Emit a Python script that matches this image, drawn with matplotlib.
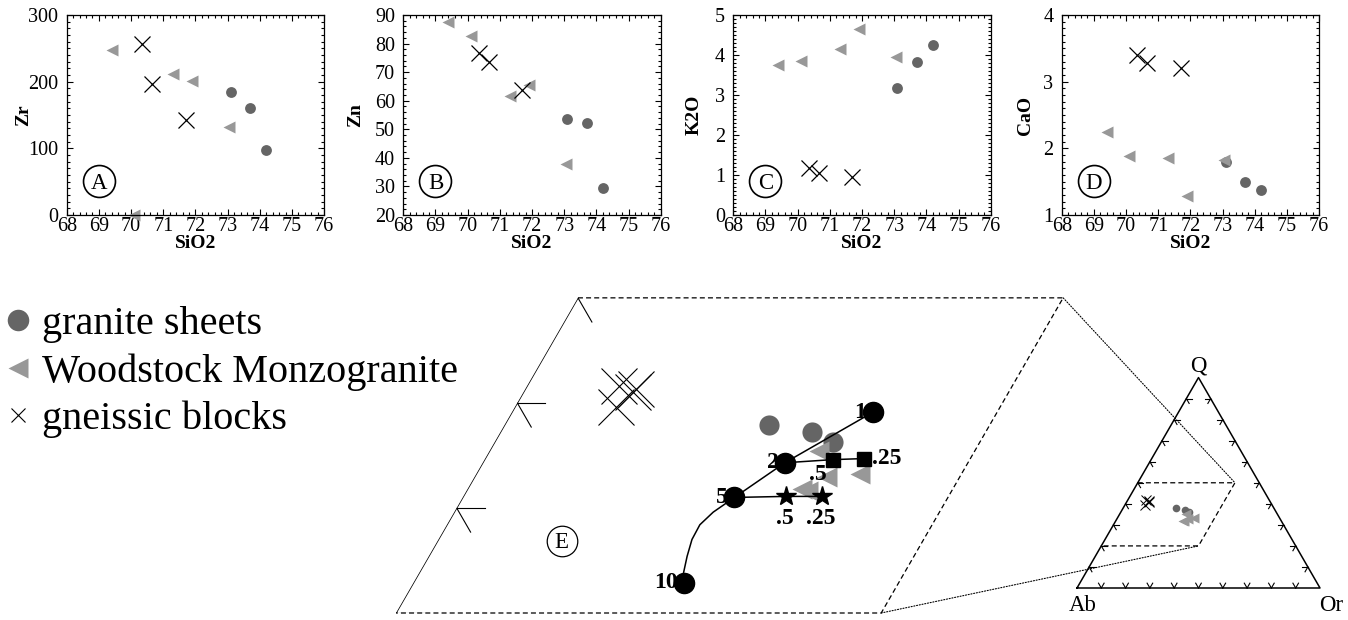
import numpy as np
import matplotlib.pyplot as plt
from matplotlib.lines import Line2D
from matplotlib.patches import ConnectionPatch, Polygon
from matplotlib.ticker import MultipleLocator

plt.rcParams['font.family'] = ['Liberation Serif', 'DejaVu Serif']

W, H = 1348, 620
fig = plt.figure(figsize=(W / 100, H / 100), dpi=100)

C_SHEET = '#656565'
C_WOOD = '#989898'

# ---------------- Harker diagrams (A-D) ----------------
sio2_sheets = [73.1, 73.7, 74.2]
sio2_wood = [69.4, 70.1, 71.3, 71.9, 73.05]
sio2_gneiss = [70.35, 70.65, 71.7]

zr_sheets = [185, 161, 97]
zr_wood = [248, 0, 212, 201, 132]
zr_gneiss = [256, 196, 142]

zn_sheets = [53.5, 52.3, 29.5]
zn_wood = [87.7, 82.8, 61.8, 65.5, 37.8]
zn_gneiss = [76.6, 73.7, 63.6]

k2o_sheets = [3.17, 3.82, 4.24]
k2o_wood = [3.74, 3.86, 4.14, 4.66, 3.95]
k2o_gneiss = [1.18, 1.05, 0.95]

cao_sheets = [1.80, 1.49, 1.37]
cao_wood = [2.25, 1.89, 1.85, 1.29, 1.82]
cao_gneiss = [3.40, 3.28, 3.20]

# ---------------- Q-Ab-Or ternary (wt %, Ab = 100 - Q - Or) ----------------
q_sheets = [37.9, 37.25, 36.25]
or_sheets = [21.8, 25.65, 27.9]
q_wood = [35.4, 32.9, 31.8, 31.6, 33.2]
or_wood = [27.2, 29.1, 27.6, 28.2, 31.65]
q_gneiss = [41.6, 41.3, 39.6, 41.0]
or_gneiss = [7.55, 9.1, 8.3, 9.0]

model_q = [39.1, 34.3, 31.0, 22.9]
model_or = [29.75, 24.9, 22.4, 22.3]
model_lbl = ['1', '2', '5', '10']
curve_q = [31.0, 29.6, 28.4, 27.0, 25.4, 23.8, 22.9]
curve_or = [22.4, 21.35, 20.85, 20.9, 21.3, 21.8, 22.3]

sq_q = [34.6, 34.7]
sq_or = [28.7, 31.2]
sq_lbl = ['.5', '.25']
star_q = [31.1, 31.1]
star_or = [26.6, 29.6]
star_lbl = ['.5', '.25']

zoom_q = [20, 50]
zoom_or = [0, 40]


def tern(q, o):
    q = np.asarray(q, float) / 100
    o = np.asarray(o, float) / 100
    return o + q / 2, q * np.sqrt(3) / 2


def px_axes(x0, y0, x1, y1):
    return fig.add_axes([x0 / W, 1 - y1 / H, (x1 - x0) / W, (y1 - y0) / H])


def px_limits(ax, box, scale, anchor, anchor_px):
    x0, y0, x1, y1 = box
    ax.set_xlim(anchor[0] - (anchor_px[0] - x0) / scale, anchor[0] + (x1 - anchor_px[0]) / scale)
    ax.set_ylim(anchor[1] - (y1 - anchor_px[1]) / scale, anchor[1] + (anchor_px[1] - y0) / scale)
    ax.axis('off')


panels = [
    ('Zr', zr_sheets, zr_wood, zr_gneiss, (0, 300), 100, 10, 'A', 66.7, -0.135),
    ('Zn', zn_sheets, zn_wood, zn_gneiss, (20, 90), 10, 2, 'B', 403.3, -0.153),
    ('K2O', k2o_sheets, k2o_wood, k2o_gneiss, (0, 5), 1, 0.1, 'C', 733.3, -0.118),
    ('CaO', cao_sheets, cao_wood, cao_gneiss, (1, 4), 1, 0.1, 'D', 1061.7, -0.108),
]

for name, ys, yw, yg, ylim, major, minor, letter, left, ylab_x in panels:
    ax = px_axes(left, 15, left + 257.5, 215)
    ax.plot(sio2_sheets, ys, 'o', color=C_SHEET, mec='none', ms=7.8, clip_on=False)
    ax.plot(sio2_wood, yw, '<', color=C_WOOD, mec='none', ms=8.5, clip_on=False)
    ax.plot(sio2_gneiss, yg, 'x', color='black', ms=11, mew=0.9, clip_on=False)
    ax.set_xlim(68, 76)
    ax.set_ylim(*ylim)
    ax.xaxis.set_major_locator(MultipleLocator(1))
    ax.xaxis.set_minor_locator(MultipleLocator(0.2))
    ax.yaxis.set_major_locator(MultipleLocator(major))
    ax.yaxis.set_minor_locator(MultipleLocator(minor))
    ax.tick_params(which='both', direction='in', top=True, right=True, labelsize=14.5, width=0.8)
    ax.tick_params(which='major', length=4.5)
    ax.tick_params(which='minor', length=2.2)
    ax.tick_params(axis='x', pad=1.5)
    ax.tick_params(axis='y', pad=6)
    for s in ax.spines.values():
        s.set_linewidth(0.9)
    ax.set_xlabel('SiO2', fontsize=14, fontweight='bold')
    ax.set_ylabel(name, fontsize=14, fontweight='bold')
    ax.xaxis.set_label_coords(0.5, -0.1)
    ax.yaxis.set_label_coords(ylab_x, 0.5)
    ax.plot([0.125], [0.17], 'o', transform=ax.transAxes, ms=23, mfc='none', mec='black', mew=1.2)
    ax.annotate(letter, (0.125, 0.17), xycoords='axes fraction', xytext=(0, -5.6),
                textcoords='offset points', ha='center', va='baseline', fontsize=16.5)

# ---------------- legend ----------------
handles = [
    Line2D([], [], ls='none', marker='o', color=C_SHEET, mec='none', ms=15.5),
    Line2D([], [], ls='none', marker='<', color=C_WOOD, mec='none', ms=14),
    Line2D([], [], ls='none', marker='x', color='black', ms=10, mew=0.8),
]
fig.legend(handles, ['granite sheets', 'Woodstock Monzogranite', 'gneissic blocks'],
           loc='upper left', bbox_to_anchor=(0.006, 1 - 306 / H), frameon=False,
           fontsize=29, handlelength=0.5, handletextpad=0.35, labelspacing=0.25,
           borderpad=0, borderaxespad=0)


# ---------------- ternary helpers ----------------
def ternary_frame(ax, tick_len, clip=None):
    arts = []
    cx, cy = tern([0, 0, 100, 0], [0, 100, 0, 0])
    arts += ax.plot(cx, cy, color='black', lw=1.1)
    L = tick_len
    for k in range(1, 10):
        t = k * 10
        segs = [
            ([0, L], [t, t]), ([0, L], [t, t - L]),                       # Ab-Or side
            ([t, t - L], [0, L]),                                         # Ab-Q side
            ([t, t], [100 - t, 100 - t - L]), ([t, t - L], [100 - t, 100 - t]),  # Q-Or side
        ]
        if t < zoom_q[1] or clip is None:
            segs.append(([t, t], [0, L]))
        for sq, so in segs:
            sx, sy = tern(sq, so)
            arts += ax.plot(sx, sy, color='black', lw=0.8)
    if clip is not None:
        for a in arts:
            a.set_clip_path(clip)
    zq = [zoom_q[1], zoom_q[1], zoom_q[0], zoom_q[0]]
    zo = [zoom_or[0], zoom_or[1], zoom_or[1], zoom_or[0]]
    zx, zy = tern(zq, zo)
    ax.plot(zx, zy, color='black', lw=0.9, ls=(0, (4, 2.5)))


def samples(ax, ms_c, ms_t, ms_x, mew_x):
    x, y = tern(q_sheets, or_sheets)
    ax.plot(x, y, 'o', color=C_SHEET, mec='none', ms=ms_c, zorder=2)
    x, y = tern(q_wood, or_wood)
    ax.plot(x, y, '<', color=C_WOOD, mec='none', ms=ms_t, zorder=2)
    x, y = tern(q_gneiss, or_gneiss)
    ax.plot(x, y, 'x', color='black', ms=ms_x, mew=mew_x, zorder=2)


# ---------------- E: enlarged part of the ternary ----------------
E_BOX = (385, 285, 1085, 620)
axE = px_axes(*E_BOX)
px_limits(axE, E_BOX, 1213, tern(20, 0), (396, 613))
pq = [zoom_q[0], zoom_q[1], zoom_q[1], zoom_q[0]]
po = [zoom_or[0], zoom_or[0], zoom_or[1], zoom_or[1]]
px_, py_ = tern(pq, po)
clipE = Polygon(np.column_stack([px_, py_]), closed=True, transform=axE.transData)
ternary_frame(axE, 2.3, clip=clipE)
samples(axE, 14.5, 14.5, 26, 0.8)

bk = dict(color='black', lw=1.1, zorder=3)
x, y = tern(model_q[:3], model_or[:3])
axE.plot(x, y, **bk)
x, y = tern(curve_q, curve_or)
axE.plot(x, y, **bk)
x, y = tern([model_q[1]] + sq_q, [model_or[1]] + sq_or)
axE.plot(x, y, **bk)
x, y = tern([model_q[2]] + star_q, [model_or[2]] + star_or)
axE.plot(x, y, **bk)

mx, my = tern(model_q, model_or)
axE.plot(mx, my, 'o', color='black', ms=14.5, zorder=4)
for xi, yi, s in zip(mx, my, model_lbl):
    axE.annotate(s, (xi, yi), xytext=(-4.5, 0), textcoords='offset points',
                 ha='right', va='center', fontsize=17, fontweight='bold', zorder=5)
sx, sy = tern(sq_q, sq_or)
axE.plot(sx, sy, 's', color='black', ms=9.5, zorder=4)
axE.annotate(sq_lbl[0], (sx[0], sy[0]), xytext=(-11, -11), textcoords='offset points',
             ha='center', va='center', fontsize=17, fontweight='bold')
axE.annotate(sq_lbl[1], (sx[1], sy[1]), xytext=(6, 0), textcoords='offset points',
             ha='left', va='center', fontsize=17, fontweight='bold')
tx, ty = tern(star_q, star_or)
axE.plot(tx, ty, '*', color='black', ms=15, zorder=4)
for xi, yi, s in zip(tx, ty, star_lbl):
    axE.annotate(s, (xi, yi), xytext=(-1, -16), textcoords='offset points',
                 ha='center', va='center', fontsize=17, fontweight='bold')

ex, ey = tern(26.9, 10.2)
axE.plot([ex], [ey], 'o', ms=22, mfc='none', mec='black', mew=0.9)
axE.annotate('E', (ex, ey), xytext=(0, -5.5), textcoords='offset points',
             ha='center', va='baseline', fontsize=16.5)

# ---------------- full Q-Ab-Or triangle ----------------
T_BOX = (1050, 345, 1348, 620)
axT = px_axes(*T_BOX)
px_limits(axT, T_BOX, 243, (0, 0), (1077, 588))
ternary_frame(axT, 2.3)
samples(axT, 5.5, 6.5, 6.5, 0.7)
for s, q, o, off in [('Q', 100, 0, (0, 1)), ('Ab', 0, 0, (4, -5)), ('Or', 0, 100, (8, -5))]:
    vx, vy = tern(q, o)
    axT.annotate(s, (vx, vy), xytext=off, textcoords='offset points', ha='center',
                 va='bottom' if s == 'Q' else 'top', fontsize=16.5)

# dotted lines linking the enlarged region to the triangle
for q, o in [(zoom_q[1], zoom_or[1]), (zoom_q[0], zoom_or[1])]:
    p = tern(q, o)
    con = ConnectionPatch(xyA=p, coordsA='data', axesA=axE, xyB=p, coordsB='data', axesB=axT,
                          ls=(0, (1, 1.5)), lw=0.8, color='black')
    fig.add_artist(con)

fig.savefig('out.png', dpi=100)
